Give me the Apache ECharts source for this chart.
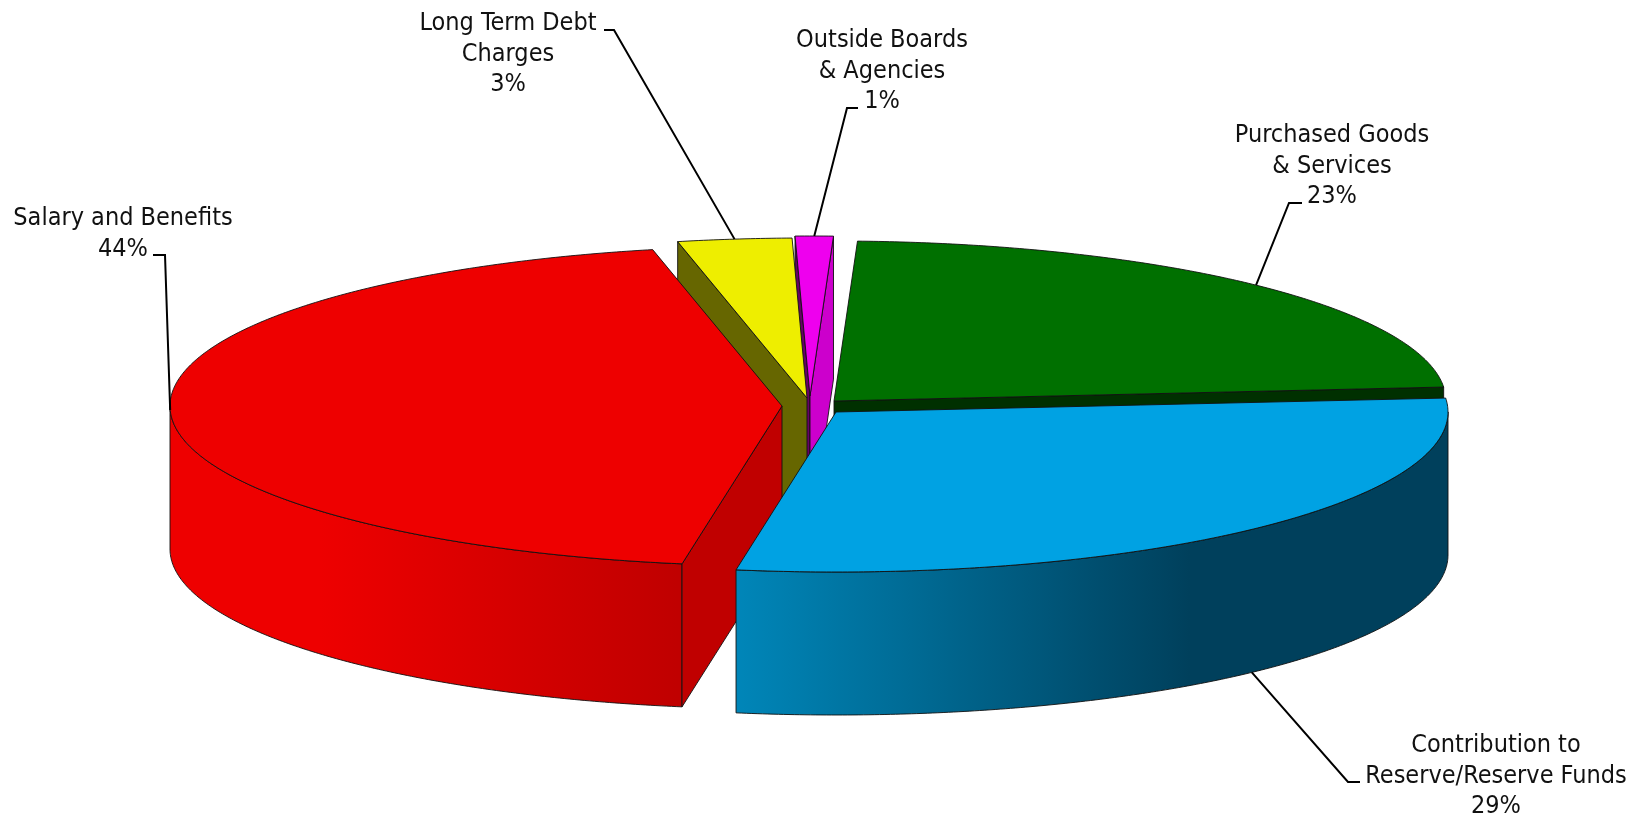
<!DOCTYPE html>
<html>
<head>
<meta charset="utf-8">
<title>Expenditure by category</title>
<style>
  html, body { margin: 0; padding: 0; background: #fff; }
  #chart { width: 1642px; height: 817px; }
</style>
<script src="https://cdn.jsdelivr.net/npm/echarts@6/dist/echarts.min.js"></script>
</head>
<body>
<div id="chart"></div>
<script>
// Budget shares, clockwise from the top of the pie
const categories = [
  'Purchased Goods\n& Services',
  'Contribution to\nReserve/Reserve Funds',
  'Salary and Benefits',
  'Long Term Debt\nCharges',
  'Outside Boards\n& Agencies'
];
const shares = [23, 29, 44, 3, 1];

// Pie geometry: tilted disc radii, thickness, rotation of the first slice
const RX = 612, RY = 160, DEPTH = 143, START_ANGLE = 2.2;
const FONT = '"DejaVu Sans Condensed", "DejaVu Sans", sans-serif';

// Per-slice layout, indexed like categories
const sliceCentres = [[834, 401], [836, 412], [782, 406], [807, 398], [810, 396]];
const topColours = ['#007000', '#00A2E3', '#EE0000', '#EEEE00', '#EE00EE'];
const startFaceColours = ['#003000', '#003F5A', '#C00000', '#666600', '#660066'];
const endFaceColours = ['#003000', '#003F5A', '#C00000', '#666600', '#CC00CC'];
const wallStops = [
  null,
  { from: 729, to: 1190, colours: ['#0087BA', '#00405C'] },
  { from: 320, to: 677, colours: ['#EE0000', '#C00000'] },
  null,
  null
];
const labelCentres = [[1332, 166], [1496, 776], [123, 234], [508, 54], [882, 71]];
const leaderElbows = [
  [[1289, 203], [1302, 203]],
  [[1348, 782], [1360, 782]],
  [[165, 255], [153, 255]],
  [[614, 30], [604, 30]],
  [[847, 108], [858, 108]]
];
// Back slices are painted first so the front ones overlap them
const paintRank = [0, 4, 3, 2, 1];

const total = shares.reduce((a, b) => a + b, 0);
const sweeps = [];
shares.reduce((from, v) => {
  const to = from + v / total * 360;
  sweeps.push([from, to]);
  return to;
}, START_ANGLE);

function point(c, angle, drop) {
  const r = angle * Math.PI / 180;
  return [c[0] + RX * Math.sin(r), c[1] - RY * Math.cos(r) + (drop || 0)];
}
function arc(c, a0, a1, drop) {
  const pts = [];
  const n = Math.max(2, Math.ceil(Math.abs(a1 - a0) * 2));
  for (let i = 0; i <= n; i++) pts.push(point(c, a0 + (a1 - a0) * i / n, drop));
  return pts;
}
const edge = { stroke: '#111', lineWidth: 0.9, lineJoin: 'round' };

function renderSlice(params) {
  const i = params.dataIndex;
  const c = sliceCentres[i];
  const [a0, a1] = sweeps[i];
  const base = paintRank[i] * 10;
  const children = [];
  const add = (points, fill, z) => children.push({
    type: 'polygon', z2: base + z,
    shape: { points },
    style: Object.assign({ fill }, edge)
  });

  // Outer wall: only the stretch of rim facing the viewer
  const w0 = Math.max(a0, 90), w1 = Math.min(a1, 270);
  if (w1 > w0) {
    const s = wallStops[i];
    const fill = s ? new echarts.graphic.LinearGradient(s.from, 0, s.to, 0, [
      { offset: 0, color: s.colours[0] },
      { offset: 1, color: s.colours[1] }
    ], true) : topColours[i];
    add(arc(c, w0, w1, 0).concat(arc(c, w1, w0, DEPTH)), fill, 1);
  }
  // Cut faces of the wedge, where they turn towards the viewer
  const below = [c[0], c[1] + DEPTH];
  if (Math.sin(a0 * Math.PI / 180) < 0) {
    add([c, point(c, a0), point(c, a0, DEPTH), below], startFaceColours[i], 2);
  }
  if (Math.sin(a1 * Math.PI / 180) > 0) {
    add([c, point(c, a1), point(c, a1, DEPTH), below], endFaceColours[i], 2);
  }
  // Top of the wedge
  add([c].concat(arc(c, a0, a1, 0)), topColours[i], 3);

  // Leader line from the rim at mid-slice, then the category label
  const mid = (a0 + a1) / 2;
  const frontWall = Math.cos(mid * Math.PI / 180) < 0 && Math.sin(mid * Math.PI / 180) > 0;
  children.push({
    type: 'polyline', z2: 100,
    shape: { points: [point(c, mid, frontWall ? DEPTH : 0)].concat(leaderElbows[i]) },
    style: { fill: null, stroke: '#000', lineWidth: 2 }
  });
  children.push({
    type: 'text', z2: 101,
    style: {
      text: categories[i] + '\n' + shares[i] + '%',
      x: labelCentres[i][0], y: labelCentres[i][1],
      align: 'center', verticalAlign: 'middle',
      fontFamily: FONT, fontSize: 25, lineHeight: 30.7, fill: '#111'
    }
  });
  return { type: 'group', children };
}

const chart = echarts.init(document.getElementById('chart'));
chart.setOption({
  animation: false,
  backgroundColor: '#fff',
  series: [{
    type: 'custom',
    coordinateSystem: 'none',
    silent: true,
    renderItem: renderSlice,
    data: shares.map((value, k) => ({ name: categories[k], value }))
  }]
});
</script>
</body>
</html>
